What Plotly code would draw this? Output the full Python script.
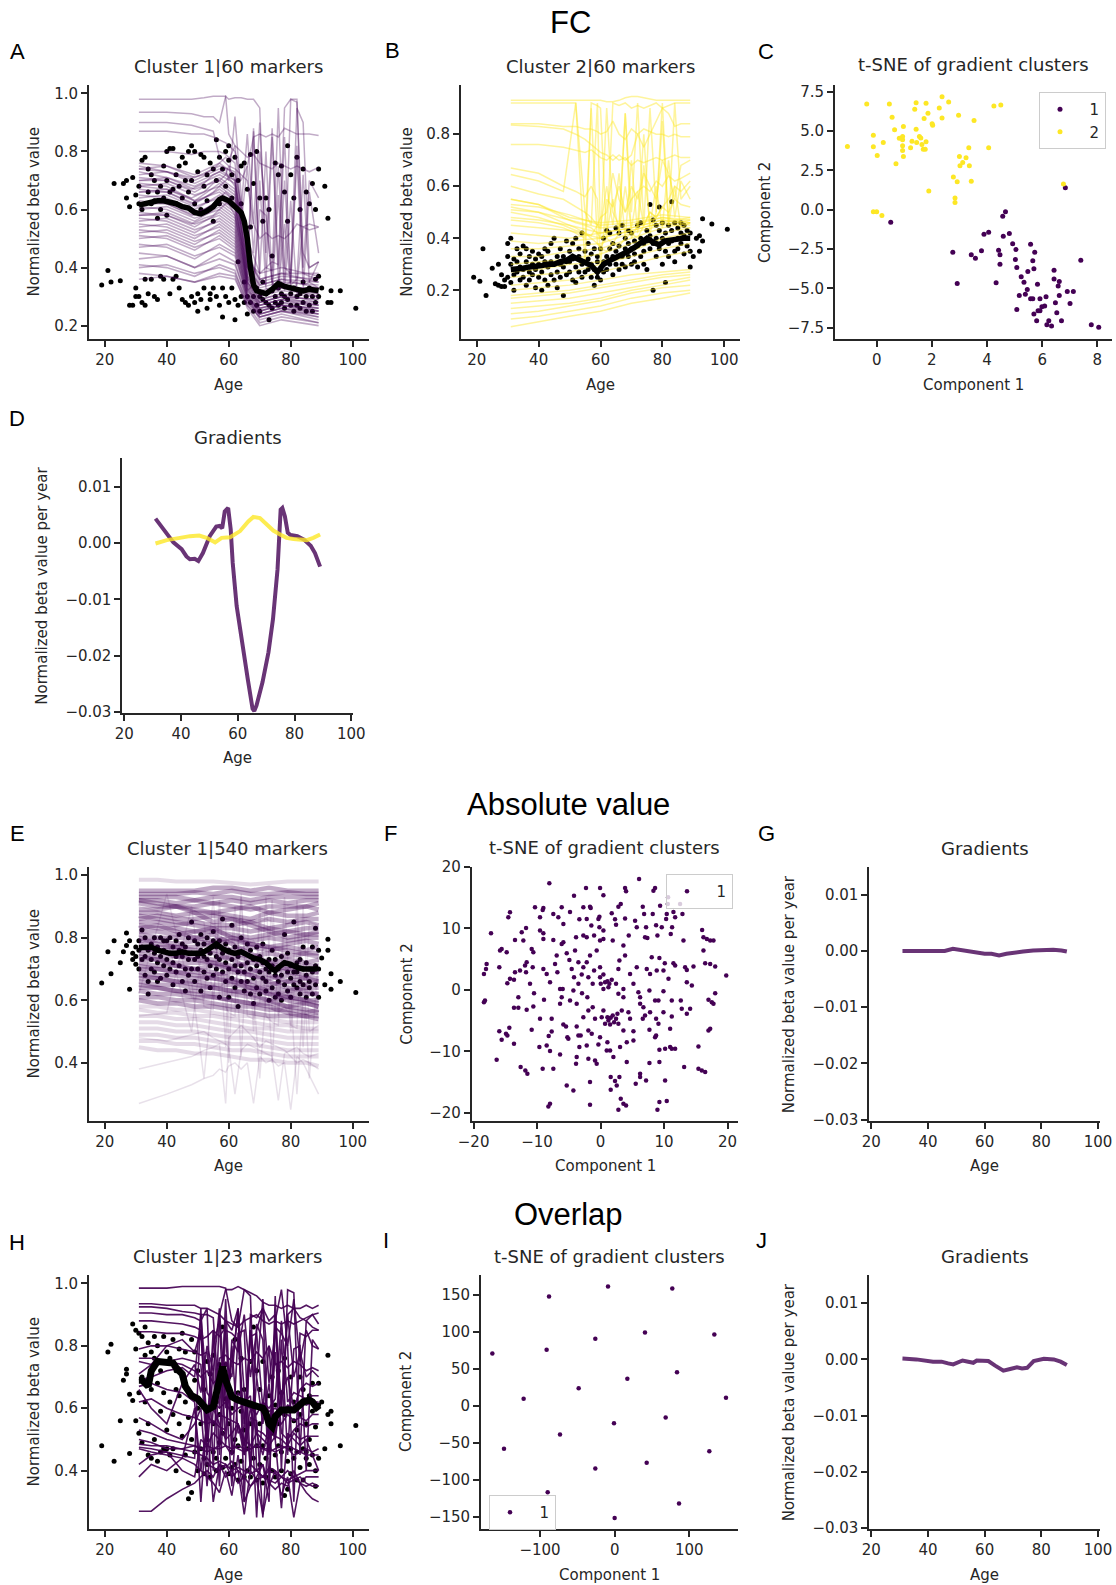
import plotly.graph_objects as go

W, H = 1116, 1585
PURPLE = "#440154"
YELLOW = "#fde725"
INK = "#262626"

# ---------------- shared sample ages (scatter points) ----------------
SAMPLE_AGE = [
    19, 21, 22, 23, 25, 26, 27, 27, 28, 28,
    29, 29, 30, 30, 30, 31, 31, 31, 32, 32,
    32, 33, 33, 33, 34, 34, 34, 35, 35, 35,
    36, 36, 36, 37, 37, 37, 38, 38, 38, 39,
    39, 39, 40, 40, 40, 41, 41, 41, 42, 42,
    42, 43, 43, 43, 44, 44, 44, 45, 45, 45,
    46, 46, 46, 47, 47, 47, 48, 48, 48, 49,
    49, 49, 50, 50, 50, 51, 51, 51, 52, 52,
    52, 53, 53, 53, 54, 54, 54, 55, 55, 55,
    56, 56, 56, 57, 57, 57, 58, 58, 58, 59,
    59, 59, 60, 60, 60, 61, 61, 61, 62, 62,
    62, 63, 63, 63, 64, 64, 64, 65, 65, 65,
    66, 66, 66, 67, 67, 67, 68, 68, 68, 69,
    69, 69, 70, 70, 70, 71, 71, 71, 72, 72,
    72, 73, 73, 73, 74, 74, 74, 75, 75, 75,
    76, 76, 76, 77, 77, 77, 78, 78, 78, 79,
    79, 79, 80, 80, 80, 81, 81, 81, 82, 82,
    82, 83, 83, 83, 84, 84, 84, 85, 85, 85,
    86, 86, 86, 87, 87, 87, 88, 88, 88, 89,
    89, 89, 90, 91, 92, 92, 93, 93, 96, 101,
]

# ---------------- Panel A (FC, cluster 1) ----------------
A_BETA = [
    0.34, 0.39, 0.35, 0.69, 0.355, 0.69, 0.70, 0.64, 0.61, 0.27,
    0.71, 0.27, 0.33, 0.30, 0.65, 0.62, 0.68, 0.30, 0.77, 0.28,
    0.60, 0.78, 0.27, 0.36, 0.74, 0.31, 0.66, 0.62, 0.36, 0.72,
    0.70, 0.30, 0.63, 0.66, 0.29, 0.57, 0.68, 0.37, 0.60, 0.75,
    0.64, 0.36, 0.80, 0.58, 0.70, 0.81, 0.66, 0.31, 0.67, 0.36,
    0.81, 0.72, 0.62, 0.37, 0.75, 0.33, 0.68, 0.78, 0.29, 0.64,
    0.70, 0.28, 0.76, 0.27, 0.80, 0.66, 0.30, 0.70, 0.82, 0.62,
    0.28, 0.80, 0.31, 0.73, 0.25, 0.79, 0.60, 0.29, 0.68, 0.33,
    0.78, 0.26, 0.72, 0.63, 0.31, 0.76, 0.29, 0.56, 0.33, 0.74,
    0.84, 0.30, 0.70, 0.27, 0.78, 0.62, 0.23, 0.74, 0.33, 0.80,
    0.68, 0.30, 0.77, 0.28, 0.82, 0.72, 0.33, 0.64, 0.22, 0.78,
    0.29, 0.70, 0.42, 0.27, 0.75, 0.30, 0.62, 0.76, 0.28, 0.35,
    0.67, 0.24, 0.30, 0.79, 0.28, 0.54, 0.30, 0.25, 0.69, 0.80,
    0.33, 0.27, 0.64, 0.30, 0.25, 0.56, 0.29, 0.35, 0.64, 0.28,
    0.31, 0.60, 0.27, 0.22, 0.32, 0.26, 0.44, 0.76, 0.30, 0.28,
    0.72, 0.33, 0.27, 0.75, 0.28, 0.31, 0.66, 0.26, 0.30, 0.82,
    0.56, 0.29, 0.72, 0.31, 0.27, 0.64, 0.25, 0.33, 0.78, 0.30,
    0.27, 0.60, 0.31, 0.26, 0.74, 0.28, 0.35, 0.66, 0.30, 0.25,
    0.33, 0.62, 0.27, 0.30, 0.69, 0.25, 0.36, 0.28, 0.60, 0.74,
    0.30, 0.37, 0.33, 0.68, 0.57, 0.28, 0.32, 0.28, 0.32, 0.26,
]
A_LOW_AGE = [31, 40, 49, 57, 62, 66, 70, 77, 89]
A_LOW_LINES = [
    [0.76, 0.75, 0.72, 0.76, 0.72, 0.45, 0.36, 0.38, 0.35],
    [0.75, 0.73, 0.70, 0.74, 0.70, 0.42, 0.34, 0.36, 0.33],
    [0.74, 0.75, 0.71, 0.75, 0.73, 0.50, 0.38, 0.40, 0.37],
    [0.73, 0.71, 0.68, 0.72, 0.69, 0.40, 0.32, 0.34, 0.31],
    [0.72, 0.73, 0.69, 0.73, 0.70, 0.44, 0.35, 0.37, 0.36],
    [0.71, 0.70, 0.66, 0.71, 0.67, 0.38, 0.30, 0.33, 0.30],
    [0.70, 0.71, 0.67, 0.70, 0.66, 0.41, 0.33, 0.35, 0.34],
    [0.69, 0.68, 0.63, 0.69, 0.65, 0.37, 0.29, 0.31, 0.28],
    [0.68, 0.69, 0.65, 0.68, 0.64, 0.43, 0.36, 0.38, 0.38],
    [0.67, 0.66, 0.62, 0.67, 0.63, 0.36, 0.28, 0.30, 0.27],
    [0.66, 0.67, 0.63, 0.66, 0.62, 0.39, 0.31, 0.34, 0.32],
    [0.65, 0.64, 0.60, 0.65, 0.61, 0.35, 0.27, 0.29, 0.26],
    [0.64, 0.65, 0.61, 0.64, 0.60, 0.40, 0.34, 0.36, 0.35],
    [0.63, 0.62, 0.58, 0.63, 0.59, 0.34, 0.26, 0.28, 0.25],
    [0.62, 0.63, 0.59, 0.62, 0.58, 0.37, 0.30, 0.32, 0.31],
    [0.61, 0.60, 0.56, 0.61, 0.57, 0.33, 0.25, 0.27, 0.24],
    [0.60, 0.61, 0.57, 0.60, 0.56, 0.36, 0.31, 0.33, 0.33],
    [0.59, 0.58, 0.54, 0.59, 0.55, 0.32, 0.24, 0.26, 0.23],
    [0.58, 0.59, 0.55, 0.58, 0.54, 0.35, 0.29, 0.31, 0.30],
    [0.57, 0.56, 0.52, 0.57, 0.53, 0.31, 0.23, 0.25, 0.22],
    [0.56, 0.57, 0.53, 0.56, 0.52, 0.34, 0.28, 0.30, 0.29],
    [0.55, 0.54, 0.50, 0.55, 0.51, 0.30, 0.22, 0.24, 0.21],
    [0.54, 0.55, 0.51, 0.54, 0.50, 0.33, 0.27, 0.29, 0.28],
    [0.53, 0.52, 0.48, 0.53, 0.49, 0.30, 0.25, 0.27, 0.25],
    [0.52, 0.53, 0.49, 0.52, 0.48, 0.32, 0.28, 0.30, 0.29],
    [0.51, 0.50, 0.46, 0.51, 0.47, 0.29, 0.24, 0.26, 0.24],
    [0.50, 0.51, 0.47, 0.50, 0.46, 0.31, 0.27, 0.29, 0.27],
    [0.48, 0.47, 0.43, 0.48, 0.45, 0.29, 0.25, 0.27, 0.26],
    [0.47, 0.48, 0.44, 0.47, 0.44, 0.30, 0.26, 0.28, 0.27],
    [0.45, 0.44, 0.40, 0.45, 0.42, 0.28, 0.23, 0.25, 0.23],
    [0.43, 0.44, 0.40, 0.43, 0.41, 0.29, 0.26, 0.27, 0.26],
    [0.41, 0.40, 0.37, 0.41, 0.39, 0.27, 0.21, 0.23, 0.21],
    [0.40, 0.41, 0.38, 0.40, 0.38, 0.28, 0.24, 0.26, 0.25],
    [0.38, 0.37, 0.35, 0.38, 0.37, 0.26, 0.20, 0.22, 0.20],
    [0.36, 0.37, 0.35, 0.37, 0.36, 0.27, 0.23, 0.25, 0.24],
]
JAG_AGE = [31, 40, 48, 52, 55, 57, 59, 60, 62, 64, 66, 68, 70, 72, 74, 76, 78, 80, 82, 84, 86, 89]
A_JAG_LINES = [
    [0.98, 0.98, 0.98, 0.985, 0.99, 0.99, 0.99, 0.86, 0.82, 0.80, 0.78, 0.79, 0.76, 0.75, 0.74, 0.76, 0.75, 0.74, 0.75, 0.74, 0.73, 0.745],
    [0.935, 0.935, 0.93, 0.92, 0.92, 0.90, 0.99, 0.98, 0.985, 0.985, 0.98, 0.98, 0.95, 0.40, 0.42, 0.41, 0.95, 0.98, 0.97, 0.45, 0.40, 0.42],
    [0.90, 0.90, 0.89, 0.88, 0.87, 0.78, 0.76, 0.75, 0.74, 0.72, 0.70, 0.55, 0.50, 0.52, 0.50, 0.51, 0.50, 0.52, 0.55, 0.54, 0.55, 0.54],
    [0.87, 0.87, 0.86, 0.86, 0.85, 0.84, 0.83, 0.82, 0.80, 0.70, 0.75, 0.85, 0.86, 0.85, 0.86, 0.85, 0.88, 0.87, 0.86, 0.86, 0.86, 0.855],
    [0.80, 0.80, 0.79, 0.80, 0.80, 0.80, 0.79, 0.78, 0.76, 0.60, 0.45, 0.40, 0.38, 0.40, 0.39, 0.95, 0.40, 0.38, 0.95, 0.90, 0.40, 0.42],
    [0.74, 0.73, 0.71, 0.72, 0.74, 0.76, 0.78, 0.77, 0.82, 0.60, 0.86, 0.55, 0.90, 0.45, 0.88, 0.40, 0.85, 0.35, 0.82, 0.40, 0.70, 0.64],
    [0.70, 0.70, 0.67, 0.69, 0.72, 0.73, 0.74, 0.70, 0.92, 0.65, 0.40, 0.87, 0.38, 0.80, 0.35, 0.75, 0.36, 0.98, 0.98, 0.38, 0.37, 0.36],
    [0.68, 0.67, 0.64, 0.66, 0.69, 0.70, 0.72, 0.75, 0.70, 0.55, 0.75, 0.45, 0.80, 0.60, 0.35, 0.33, 0.70, 0.34, 0.36, 0.72, 0.35, 0.33],
    [0.66, 0.66, 0.62, 0.64, 0.66, 0.68, 0.70, 0.71, 0.68, 0.55, 0.35, 0.32, 0.70, 0.33, 0.31, 0.65, 0.32, 0.63, 0.31, 0.32, 0.66, 0.45],
    [0.62, 0.62, 0.58, 0.60, 0.62, 0.64, 0.66, 0.65, 0.62, 0.50, 0.34, 0.88, 0.36, 0.34, 0.85, 0.36, 0.34, 0.35, 0.78, 0.34, 0.35, 0.42],
    [0.58, 0.58, 0.55, 0.57, 0.58, 0.60, 0.62, 0.62, 0.58, 0.48, 0.32, 0.34, 0.60, 0.58, 0.34, 0.32, 0.55, 0.33, 0.34, 0.54, 0.53, 0.54],
]
A_MEAN_AGE = [31, 33, 35, 37, 39, 41, 43, 45, 47, 49, 51, 53, 55, 57, 58, 60, 62, 64, 65, 66, 67, 68, 69, 70, 72, 74, 76, 78, 80, 82, 84, 86, 88, 89]
A_MEAN = [0.615, 0.62, 0.625, 0.63, 0.63, 0.625, 0.62, 0.61, 0.605, 0.59, 0.585, 0.595, 0.61, 0.635, 0.64, 0.63, 0.61, 0.59, 0.56, 0.50, 0.40, 0.34, 0.32, 0.315, 0.31, 0.325, 0.345, 0.335, 0.33, 0.325, 0.32, 0.325, 0.32, 0.32]

# ---------------- Panel B (FC, cluster 2) ----------------
B_BETA = [
    0.25, 0.235, 0.36, 0.18, 0.285, 0.225, 0.22, 0.30, 0.26, 0.215,
    0.24, 0.215, 0.38, 0.33, 0.25, 0.40, 0.30, 0.23, 0.26, 0.32,
    0.20, 0.36, 0.27, 0.31, 0.24, 0.34, 0.29, 0.25, 0.37, 0.28,
    0.31, 0.22, 0.36, 0.27, 0.33, 0.24, 0.30, 0.35, 0.26, 0.32,
    0.21, 0.28, 0.34, 0.25, 0.30, 0.20, 0.33, 0.27, 0.31, 0.36,
    0.24, 0.29, 0.35, 0.22, 0.31, 0.26, 0.38, 0.30, 0.24, 0.40,
    0.27, 0.33, 0.21, 0.30, 0.36, 0.25, 0.33, 0.18, 0.29, 0.39,
    0.26, 0.31, 0.35, 0.27, 0.31, 0.38, 0.24, 0.32, 0.29, 0.40,
    0.23, 0.33, 0.27, 0.36, 0.30, 0.42, 0.25, 0.31, 0.35, 0.27,
    0.38, 0.28, 0.32, 0.25, 0.34, 0.30, 0.22, 0.36, 0.28, 0.31,
    0.25, 0.33, 0.28, 0.36, 0.24, 0.31, 0.40, 0.27, 0.33, 0.43,
    0.28, 0.36, 0.30, 0.42, 0.26, 0.33, 0.38, 0.44, 0.30, 0.35,
    0.37, 0.28, 0.42, 0.33, 0.45, 0.30, 0.36, 0.40, 0.29, 0.43,
    0.33, 0.38, 0.30, 0.36, 0.42, 0.31, 0.39, 0.34, 0.45, 0.29,
    0.37, 0.33, 0.40, 0.46, 0.30, 0.38, 0.35, 0.43, 0.28, 0.39,
    0.53, 0.36, 0.41, 0.47, 0.20, 0.38, 0.45, 0.33, 0.40, 0.52,
    0.36, 0.43, 0.30, 0.40, 0.46, 0.35, 0.42, 0.23, 0.38, 0.45,
    0.33, 0.54, 0.39, 0.43, 0.35, 0.46, 0.31, 0.40, 0.44, 0.36,
    0.42, 0.38, 0.46, 0.34, 0.41, 0.45, 0.37, 0.43, 0.40, 0.29,
    0.35, 0.42, 0.33, 0.40, 0.35, 0.41, 0.475, 0.39, 0.455, 0.435,
]
B_LOW_AGE = [31, 40, 50, 60, 70, 80, 89]
B_LOW_LINES = [
    [0.06, 0.08, 0.10, 0.12, 0.15, 0.17, 0.19],
    [0.09, 0.10, 0.12, 0.14, 0.17, 0.19, 0.20],
    [0.11, 0.12, 0.14, 0.16, 0.19, 0.21, 0.22],
    [0.13, 0.14, 0.15, 0.17, 0.20, 0.22, 0.24],
    [0.15, 0.16, 0.17, 0.19, 0.21, 0.23, 0.25],
    [0.17, 0.18, 0.19, 0.21, 0.23, 0.25, 0.26],
    [0.18, 0.19, 0.20, 0.22, 0.24, 0.26, 0.27],
    [0.20, 0.21, 0.22, 0.24, 0.26, 0.27, 0.28],
    [0.22, 0.23, 0.24, 0.27, 0.30, 0.33, 0.35],
    [0.25, 0.26, 0.27, 0.30, 0.33, 0.36, 0.38],
    [0.27, 0.28, 0.30, 0.31, 0.35, 0.40, 0.42],
    [0.30, 0.31, 0.32, 0.34, 0.38, 0.42, 0.44],
    [0.33, 0.33, 0.35, 0.36, 0.40, 0.44, 0.46],
    [0.36, 0.36, 0.37, 0.38, 0.42, 0.45, 0.47],
    [0.39, 0.38, 0.39, 0.40, 0.43, 0.46, 0.48],
    [0.42, 0.41, 0.40, 0.42, 0.44, 0.47, 0.45],
    [0.45, 0.44, 0.43, 0.40, 0.43, 0.46, 0.44],
    [0.48, 0.47, 0.45, 0.42, 0.44, 0.47, 0.46],
    [0.51, 0.50, 0.47, 0.44, 0.45, 0.48, 0.47],
    [0.53, 0.52, 0.49, 0.45, 0.46, 0.48, 0.46],
    [0.55, 0.53, 0.48, 0.46, 0.47, 0.49, 0.48],
]
B_JAG_LINES = [
    [0.93, 0.93, 0.93, 0.93, 0.93, 0.93, 0.93, 0.93, 0.925, 0.925, 0.93, 0.94, 0.945, 0.945, 0.94, 0.935, 0.93, 0.93, 0.93, 0.93, 0.93, 0.93],
    [0.92, 0.92, 0.92, 0.92, 0.30, 0.92, 0.91, 0.90, 0.40, 0.92, 0.91, 0.92, 0.90, 0.91, 0.90, 0.91, 0.92, 0.90, 0.91, 0.92, 0.92, 0.92],
    [0.84, 0.84, 0.83, 0.83, 0.82, 0.82, 0.81, 0.80, 0.81, 0.85, 0.80, 0.78, 0.82, 0.80, 0.75, 0.80, 0.85, 0.90, 0.88, 0.83, 0.84, 0.84],
    [0.835, 0.83, 0.82, 0.80, 0.78, 0.76, 0.74, 0.73, 0.72, 0.70, 0.72, 0.70, 0.72, 0.80, 0.82, 0.81, 0.80, 0.80, 0.79, 0.80, 0.79, 0.79],
    [0.76, 0.76, 0.75, 0.74, 0.73, 0.74, 0.72, 0.71, 0.70, 0.72, 0.70, 0.71, 0.68, 0.70, 0.69, 0.70, 0.71, 0.70, 0.71, 0.72, 0.71, 0.71],
    [0.67, 0.65, 0.60, 0.58, 0.56, 0.60, 0.55, 0.30, 0.55, 0.52, 0.60, 0.50, 0.55, 0.58, 0.60, 0.58, 0.62, 0.60, 0.64, 0.62, 0.63, 0.65],
    [0.645, 0.62, 0.58, 0.92, 0.50, 0.45, 0.92, 0.40, 0.90, 0.50, 0.45, 0.88, 0.50, 0.92, 0.45, 0.90, 0.50, 0.85, 0.45, 0.92, 0.55, 0.60],
    [0.60, 0.57, 0.55, 0.52, 0.50, 0.48, 0.45, 0.44, 0.60, 0.45, 0.65, 0.40, 0.70, 0.42, 0.68, 0.45, 0.60, 0.44, 0.70, 0.48, 0.62, 0.55],
    [0.55, 0.53, 0.48, 0.46, 0.45, 0.44, 0.42, 0.40, 0.42, 0.55, 0.42, 0.60, 0.44, 0.58, 0.45, 0.50, 0.48, 0.52, 0.50, 0.55, 0.53, 0.52],
    [0.52, 0.50, 0.46, 0.44, 0.42, 0.40, 0.38, 0.37, 0.40, 0.38, 0.42, 0.88, 0.40, 0.45, 0.80, 0.42, 0.50, 0.92, 0.45, 0.60, 0.44, 0.46],
    [0.50, 0.48, 0.45, 0.43, 0.42, 0.41, 0.45, 0.48, 0.50, 0.65, 0.55, 0.50, 0.60, 0.55, 0.65, 0.60, 0.55, 0.70, 0.65, 0.55, 0.68, 0.70],
    [0.47, 0.46, 0.44, 0.42, 0.40, 0.90, 0.38, 0.36, 0.35, 0.38, 0.37, 0.40, 0.42, 0.40, 0.45, 0.50, 0.48, 0.52, 0.55, 0.60, 0.58, 0.62],
]
B_MEAN_AGE = [31, 33, 35, 37, 39, 41, 43, 45, 47, 49, 51, 53, 55, 57, 59, 61, 63, 65, 67, 69, 71, 73, 75, 77, 79, 81, 83, 85, 87, 89]
B_MEAN = [0.28, 0.28, 0.285, 0.29, 0.29, 0.295, 0.30, 0.30, 0.31, 0.315, 0.33, 0.32, 0.31, 0.295, 0.27, 0.30, 0.315, 0.325, 0.34, 0.35, 0.365, 0.385, 0.40, 0.385, 0.375, 0.39, 0.395, 0.40, 0.40, 0.40]

# ---------------- Panel C (t-SNE, FC) ----------------
C_TSNE_1 = [
    (0.51, -0.80), (2.76, -2.70), (2.92, -4.69), (3.43, -2.87), (3.58, -3.09), (3.80, -2.62), (3.89, -1.56),
    (4.06, -1.44), (4.33, -4.65), (4.42, -2.58), (4.47, -2.87), (4.47, -3.47), (4.57, -0.42), (4.67, -0.13),
    (4.59, -1.69), (4.81, -1.52), (4.93, -2.16), (5.05, -2.54), (5.03, -3.17), (5.08, -3.68), (5.08, -6.34),
    (5.17, -5.45), (5.24, -4.27), (5.34, -4.61), (5.39, -5.37), (5.46, -5.07), (5.48, -3.93), (5.58, -2.20),
    (5.58, -5.66), (5.66, -5.66), (5.66, -3.25), (5.70, -3.76), (5.73, -2.70), (5.70, -6.63), (5.83, -4.74),
    (5.80, -7.06), (5.85, -6.42), (5.92, -6.42), (5.92, -5.66), (5.99, -6.17), (6.09, -6.13), (6.14, -5.54),
    (6.17, -7.31), (6.24, -7.06), (6.34, -7.40), (6.43, -3.85), (6.43, -4.40), (6.48, -5.92), (6.53, -6.55),
    (6.58, -4.86), (6.62, -4.57), (6.62, -5.45), (6.70, -7.06), (6.84, 1.39), (6.91, -5.20), (7.01, -5.96),
    (7.13, -5.20), (7.40, -3.21), (7.78, -7.31), (8.05, -7.48),
]
C_TSNE_2 = [
    (-1.06, 4.01), (-0.36, 6.72), (0.46, 6.72), (-0.12, 4.73), (-0.12, 3.99), (0.02, 3.44), (0.24, 4.27),
    (0.56, 5.87), (0.65, 5.07), (0.70, 2.92), (0.82, 4.54), (0.94, 4.65), (0.94, 4.44), (0.94, 4.06),
    (0.94, 3.76), (0.97, 3.38), (0.97, 5.28), (1.23, 3.93), (1.28, 4.35), (1.38, 6.38), (1.43, 6.80),
    (1.43, 5.11), (1.45, 4.27), (1.55, 4.65), (1.60, 4.56), (1.64, 4.14), (1.69, 3.84), (1.76, 3.84),
    (1.72, 5.79), (1.79, 6.76), (1.79, 4.31), (1.86, 6.13), (1.89, 1.18), (2.01, 5.45), (2.03, 5.37),
    (2.27, 6.46), (2.37, 7.18), (2.37, 5.83), (2.61, 6.84), (2.78, 2.07), (2.84, 0.74), (2.84, 0.46),
    (2.92, 1.77), (2.97, 6.00), (3.00, 3.38), (3.02, 2.79), (3.12, 3.00), (3.24, 3.30), (3.34, 3.93),
    (3.36, 2.79), (3.43, 1.80), (3.53, 5.66), (4.06, 3.93), (4.25, 6.59), (4.50, 6.65), (6.77, 1.63),
    (-0.12, -0.13), (0.0, -0.13), (0.19, -0.38),
]

# ---------------- Panel D (gradients, FC) ----------------
D_AGE_1 = [31, 33.8, 37.3, 40.2, 41.9, 43.1, 44.8, 46.1, 47.7, 50.1, 52.4, 53.6, 54.5, 55.4, 56.6, 57.5, 58.2, 59.6, 61.7, 63.5,
           65.2, 65.8, 66.6, 68.7, 70.8, 72.4, 74.0, 75.1, 75.7, 76.6, 77.6, 78.6, 81.0, 83.3, 85.7, 87.2, 89.0]
D_GRAD_1 = [0.0043, 0.0024, 0.0001, -0.0011, -0.0024, -0.0029, -0.0028, -0.0032, -0.0018, 0.0012, 0.0029, 0.0030, 0.0026, 0.0056,
            0.0062, 0.0024, -0.0035, -0.0112, -0.0188, -0.0241, -0.0294, -0.0298, -0.0288, -0.0247, -0.0194, -0.0135, -0.0047,
            0.0059, 0.0062, 0.0047, 0.0018, 0.0014, 0.0012, 0.0006, -0.0005, -0.0018, -0.0042]
D_AGE_2 = [31, 35, 39.6, 43.1, 46.4, 49, 52, 54.3, 57.3, 60.8, 63.7, 65.5, 67.8, 70.2, 72.5, 74.9, 77.2, 79.6, 81.9, 84.3, 86.6, 89]
D_GRAD_2 = [-0.0001, 0.0005, 0.0009, 0.0012, 0.0013, 0.0009, 0.0001, 0.0009, 0.0010, 0.0021, 0.0038, 0.0046, 0.0044, 0.0032,
            0.0022, 0.0015, 0.0009, 0.0007, 0.0006, 0.0005, 0.0009, 0.0015]

# ---------------- Panel E (absolute value, cluster 1) ----------------
E_BETA = [
    0.655, 0.755, 0.685, 0.79, 0.72, 0.755, 0.815, 0.775, 0.635, 0.79,
    0.75, 0.73, 0.715, 0.77, 0.74, 0.79, 0.70, 0.76, 0.825, 0.73,
    0.77, 0.68, 0.74, 0.80, 0.62, 0.66, 0.76, 0.70, 0.78, 0.73,
    0.75, 0.69, 0.80, 0.72, 0.77, 0.66, 0.80, 0.67, 0.74, 0.79,
    0.71, 0.76, 0.73, 0.79, 0.68, 0.75, 0.80, 0.70, 0.77, 0.72,
    0.65, 0.74, 0.79, 0.69, 0.76, 0.71, 0.81, 0.66, 0.74, 0.78,
    0.70, 0.77, 0.63, 0.73, 0.80, 0.68, 0.75, 0.85, 0.70, 0.73,
    0.79, 0.66, 0.74, 0.70, 0.78, 0.63, 0.76, 0.81, 0.69, 0.74,
    0.78, 0.67, 0.73, 0.80, 0.64, 0.75, 0.71, 0.79, 0.68, 0.82,
    0.74, 0.70, 0.77, 0.61, 0.73, 0.79, 0.86, 0.69, 0.75, 0.72,
    0.66, 0.78, 0.70, 0.61, 0.76, 0.73, 0.67, 0.84, 0.71, 0.64,
    0.77, 0.69, 0.58, 0.74, 0.66, 0.80, 0.71, 0.63, 0.75, 0.69,
    0.72, 0.66, 0.78, 0.62, 0.70, 0.76, 0.59, 0.73, 0.67, 0.71,
    0.64, 0.77, 0.69, 0.62, 0.74, 0.67, 0.72, 0.78, 0.63, 0.70,
    0.66, 0.73, 0.60, 0.69, 0.64, 0.71, 0.76, 0.61, 0.68, 0.73,
    0.66, 0.70, 0.62, 0.74, 0.68, 0.60, 0.81, 0.65, 0.72, 0.69,
    0.63, 0.75, 0.67, 0.71, 0.61, 0.85, 0.69, 0.65, 0.72, 0.64,
    0.69, 0.66, 0.73, 0.62, 0.70, 0.65, 0.77, 0.61, 0.68, 0.72,
    0.64, 0.70, 0.66, 0.77, 0.62, 0.69, 0.65, 0.83, 0.71, 0.61,
    0.76, 0.70, 0.735, 0.65, 0.795, 0.76, 0.685, 0.635, 0.66, 0.625,
]
E_FLAT_AGE = [31, 37, 43, 49, 55, 61, 67, 73, 79, 85, 89]
# dense core of the 540 trajectories
E_CORE_LINES = [
    [0.95, 0.95, 0.95, 0.95, 0.96, 0.96, 0.95, 0.96, 0.95, 0.95, 0.95],
    [0.94, 0.94, 0.94, 0.945, 0.94, 0.95, 0.94, 0.94, 0.945, 0.94, 0.94],
    [0.93, 0.93, 0.93, 0.92, 0.93, 0.93, 0.92, 0.93, 0.93, 0.93, 0.93],
    [0.92, 0.92, 0.91, 0.92, 0.91, 0.92, 0.91, 0.92, 0.91, 0.92, 0.92],
    [0.91, 0.90, 0.90, 0.90, 0.91, 0.90, 0.89, 0.90, 0.90, 0.90, 0.91],
    [0.89, 0.89, 0.90, 0.89, 0.88, 0.89, 0.90, 0.88, 0.89, 0.90, 0.89],
    [0.88, 0.88, 0.87, 0.88, 0.88, 0.87, 0.86, 0.88, 0.87, 0.87, 0.88],
    [0.86, 0.87, 0.86, 0.86, 0.87, 0.86, 0.85, 0.86, 0.85, 0.86, 0.86],
    [0.85, 0.85, 0.84, 0.85, 0.84, 0.84, 0.85, 0.83, 0.84, 0.85, 0.84],
    [0.84, 0.83, 0.83, 0.82, 0.83, 0.83, 0.82, 0.83, 0.82, 0.83, 0.83],
    [0.82, 0.82, 0.81, 0.82, 0.82, 0.81, 0.80, 0.81, 0.82, 0.81, 0.81],
    [0.81, 0.80, 0.80, 0.80, 0.79, 0.80, 0.79, 0.80, 0.79, 0.80, 0.80],
    [0.79, 0.79, 0.78, 0.79, 0.78, 0.79, 0.78, 0.77, 0.78, 0.79, 0.78],
    [0.78, 0.77, 0.77, 0.77, 0.78, 0.76, 0.77, 0.76, 0.77, 0.76, 0.77],
    [0.76, 0.76, 0.76, 0.75, 0.76, 0.75, 0.74, 0.75, 0.74, 0.75, 0.75],
    [0.75, 0.74, 0.74, 0.74, 0.73, 0.74, 0.73, 0.72, 0.73, 0.72, 0.73],
    [0.73, 0.73, 0.72, 0.72, 0.72, 0.71, 0.72, 0.71, 0.70, 0.71, 0.71],
    [0.72, 0.71, 0.71, 0.70, 0.71, 0.70, 0.69, 0.70, 0.69, 0.68, 0.69],
    [0.70, 0.70, 0.69, 0.69, 0.68, 0.69, 0.68, 0.67, 0.68, 0.67, 0.67],
    [0.69, 0.68, 0.68, 0.67, 0.67, 0.66, 0.66, 0.65, 0.66, 0.65, 0.66],
    [0.67, 0.67, 0.66, 0.66, 0.65, 0.65, 0.64, 0.64, 0.63, 0.64, 0.64],
    [0.66, 0.65, 0.65, 0.64, 0.64, 0.63, 0.63, 0.62, 0.62, 0.62, 0.62],
    [0.64, 0.64, 0.63, 0.63, 0.62, 0.62, 0.61, 0.60, 0.61, 0.60, 0.60],
    [0.63, 0.62, 0.62, 0.61, 0.61, 0.60, 0.59, 0.59, 0.58, 0.59, 0.58],
    [0.61, 0.61, 0.60, 0.60, 0.59, 0.58, 0.58, 0.57, 0.57, 0.56, 0.57],
    [0.60, 0.59, 0.59, 0.58, 0.58, 0.57, 0.56, 0.55, 0.55, 0.55, 0.55],
    [0.92, 0.91, 0.90, 0.88, 0.85, 0.86, 0.84, 0.82, 0.80, 0.81, 0.82],
    [0.87, 0.86, 0.85, 0.84, 0.83, 0.80, 0.78, 0.77, 0.76, 0.75, 0.74],
    [0.83, 0.84, 0.82, 0.80, 0.81, 0.78, 0.75, 0.72, 0.70, 0.70, 0.69],
    [0.80, 0.78, 0.77, 0.76, 0.75, 0.73, 0.70, 0.68, 0.66, 0.67, 0.66],
    [0.77, 0.76, 0.74, 0.73, 0.72, 0.70, 0.68, 0.66, 0.64, 0.63, 0.62],
    [0.74, 0.73, 0.71, 0.70, 0.69, 0.67, 0.65, 0.63, 0.61, 0.60, 0.59],
    [0.71, 0.70, 0.69, 0.68, 0.67, 0.66, 0.64, 0.62, 0.60, 0.59, 0.58],
    [0.68, 0.67, 0.66, 0.65, 0.64, 0.63, 0.62, 0.60, 0.58, 0.57, 0.56],
    [0.65, 0.64, 0.63, 0.62, 0.61, 0.60, 0.59, 0.58, 0.56, 0.55, 0.54],
]
# sparse, fading trajectories at the edges of the band
E_FADE_LINES = [
    [0.985, 0.985, 0.98, 0.98, 0.98, 0.975, 0.97, 0.975, 0.98, 0.98, 0.98],
    [0.58, 0.58, 0.57, 0.57, 0.56, 0.55, 0.55, 0.54, 0.53, 0.53, 0.53],
    [0.57, 0.56, 0.56, 0.55, 0.55, 0.54, 0.53, 0.52, 0.52, 0.51, 0.51],
    [0.55, 0.55, 0.54, 0.54, 0.53, 0.52, 0.51, 0.51, 0.50, 0.50, 0.50],
    [0.53, 0.53, 0.52, 0.52, 0.51, 0.50, 0.50, 0.49, 0.48, 0.48, 0.48],
    [0.51, 0.51, 0.50, 0.50, 0.49, 0.48, 0.48, 0.47, 0.46, 0.46, 0.46],
    [0.49, 0.49, 0.48, 0.48, 0.47, 0.46, 0.46, 0.45, 0.44, 0.44, 0.44],
    [0.47, 0.47, 0.46, 0.46, 0.45, 0.44, 0.44, 0.43, 0.42, 0.42, 0.42],
    [0.45, 0.44, 0.44, 0.43, 0.43, 0.42, 0.41, 0.41, 0.40, 0.40, 0.39],
]
E_JAG_LINES = [
    [0.38, 0.40, 0.42, 0.44, 0.45, 0.46, 0.27, 0.48, 0.50, 0.52, 0.50, 0.48, 0.45, 0.47, 0.46, 0.45, 0.44, 0.42, 0.40, 0.41, 0.40, 0.38],
    [0.27, 0.30, 0.33, 0.35, 0.36, 0.38, 0.37, 0.39, 0.40, 0.38, 0.40, 0.27, 0.42, 0.40, 0.41, 0.39, 0.40, 0.25, 0.42, 0.40, 0.36, 0.30],
    [0.90, 0.88, 0.86, 0.85, 0.60, 0.87, 0.86, 0.40, 0.85, 0.86, 0.84, 0.50, 0.85, 0.86, 0.85, 0.55, 0.84, 0.85, 0.86, 0.45, 0.85, 0.84],
    [0.70, 0.68, 0.66, 0.35, 0.65, 0.64, 0.66, 0.65, 0.90, 0.66, 0.64, 0.63, 0.35, 0.62, 0.92, 0.63, 0.60, 0.62, 0.30, 0.60, 0.62, 0.60],
    [0.55, 0.56, 0.90, 0.58, 0.57, 0.92, 0.58, 0.56, 0.55, 0.93, 0.55, 0.54, 0.90, 0.55, 0.53, 0.52, 0.93, 0.52, 0.51, 0.90, 0.50, 0.52],
    [0.82, 0.80, 0.50, 0.82, 0.81, 0.79, 0.45, 0.80, 0.78, 0.42, 0.78, 0.79, 0.75, 0.77, 0.40, 0.76, 0.75, 0.50, 0.74, 0.73, 0.35, 0.74],
    [0.62, 0.94, 0.61, 0.60, 0.93, 0.61, 0.60, 0.62, 0.59, 0.94, 0.60, 0.58, 0.59, 0.93, 0.57, 0.56, 0.58, 0.55, 0.92, 0.56, 0.55, 0.56],
    [0.48, 0.47, 0.49, 0.50, 0.48, 0.47, 0.46, 0.45, 0.30, 0.44, 0.46, 0.45, 0.44, 0.43, 0.42, 0.28, 0.43, 0.44, 0.45, 0.43, 0.42, 0.43],
]
E_MEAN_AGE = [31, 33, 35, 37, 39, 41, 43, 45, 47, 49, 51, 53, 55, 56, 58, 60, 62, 64, 66, 68, 70, 72, 74, 75, 76, 78, 80, 82, 84, 86, 88, 89]
E_MEAN = [0.768, 0.77, 0.77, 0.76, 0.755, 0.75, 0.75, 0.755, 0.75, 0.75, 0.75, 0.76, 0.775, 0.78, 0.765, 0.755, 0.75, 0.755, 0.745,
          0.735, 0.73, 0.72, 0.70, 0.695, 0.705, 0.72, 0.715, 0.705, 0.70, 0.70, 0.70, 0.705]

# ---------------- Panel F (t-SNE, absolute value) ----------------
F_TSNE_1 = [
    (-8.07, 17.34), (6.07, 18.05), (-2.29, 16.59), (-0.08, 16.59), (-4.18, 15.34), (0.45, 15.39), (3.86, 16.59), (4.02, 16.04),
    (8.33, 16.15), (8.59, 16.59), (-1.66, 13.55), (-1.55, 13.33), (-2.71, 13.44), (-4.81, 12.68), (-6.12, 13.44), (-9.01, 13.33),
    (-10.33, 13.44), (-9.12, 13.01), (-14.27, 12.63), (-14.53, 11.82), (2.81, 13.55), (3.18, 13.98), (6.65, 13.55), (8.22, 12.36),
    (9.38, 13.71), (10.43, 12.36), (10.59, 13.98), (11.48, 12.68), (12.53, 13.98), (12.90, 12.36), (10.64, 15.07), (1.76, 12.47),
    (-0.18, 11.92), (-0.34, 11.54), (-3.34, 11.49), (-2.18, 11.54), (-7.44, 12.36), (-6.65, 11.82), (-5.86, 10.73), (-9.54, 11.82),
    (2.28, 11.49), (2.44, 10.62), (3.86, 11.60), (5.44, 11.27), (6.86, 12.36), (7.17, 10.19), (8.75, 10.51), (9.64, 10.19),
    (10.33, 11.54), (11.27, 10.19), (11.75, 11.82), (16.00, 9.76), (16.21, 8.56), (16.74, 8.29), (17.27, 8.02), (17.79, 8.02),
    (16.21, 6.40), (13.06, 8.02), (11.06, 9.11), (8.96, 8.83), (7.38, 8.46), (7.01, 8.56), (5.70, 10.19), (4.44, 8.83),
    (3.60, 7.21), (1.92, 8.02), (0.45, 8.29), (-0.08, 8.02), (0.45, 9.65), (-0.18, 10.19), (-1.45, 10.46), (-1.02, 8.83),
    (-2.71, 8.83), (-2.18, 8.56), (-3.86, 8.56), (-5.86, 7.75), (-6.12, 7.48), (-7.44, 8.13), (-9.01, 8.29), (-9.54, 9.65),
    (-9.01, 9.21), (-11.74, 10.08), (-12.42, 9.38), (-12.16, 8.02), (-13.48, 8.13), (-10.85, 6.67), (-10.59, 6.12), (-15.58, 6.67),
    (-15.84, 6.40), (-14.79, 6.12), (-17.26, 9.21), (-15.95, 3.69), (-17.95, 4.23), (-18.05, 3.41), (-18.37, 2.60), (-18.37, -2.01),
    (-18.21, -1.73), (-14.69, 1.08), (-14.27, 1.79), (-13.64, 1.63), (-13.48, 2.87), (-12.69, 3.14), (-11.74, 2.87), (-11.90, 3.96),
    (-11.64, 4.50), (-10.69, 3.69), (-11.11, 0.98), (-10.48, -0.54), (-12.95, -1.19), (-12.95, -2.93), (-13.64, -2.93), (-11.64, -3.25),
    (-10.59, -2.71), (-8.91, -1.63), (-8.49, 2.60), (-9.01, 3.41), (-7.96, 1.25), (-7.17, 4.23), (-6.91, 5.58), (-6.80, 2.87),
    (-6.38, 0.16), (-6.12, -1.19), (-5.96, 0.16), (-4.91, 4.88), (-4.55, 3.41), (-3.49, 4.50), (-2.71, 3.69), (-4.18, 2.06),
    (-3.49, 0.98), (-2.92, -0.54), (-4.81, -1.73), (-4.28, -0.11), (-1.92, 2.06), (-1.24, 0.98), (-1.02, 3.14), (-0.08, 3.69),
    (-0.08, 2.06), (0.45, 2.49), (0.03, 0.98), (0.71, 1.25), (1.08, 1.41), (1.39, 0.98), (1.76, 1.63), (0.45, 0.16),
    (1.24, 0.43), (2.44, 0.98), (2.81, 3.41), (2.97, 4.77), (3.86, 5.58), (4.65, 2.60), (5.18, 0.98), (5.96, -0.38),
    (6.23, -1.19), (5.70, 3.69), (7.28, 3.41), (7.80, 2.60), (8.06, 5.31), (9.27, 5.20), (8.85, 3.14), (10.12, 4.34),
    (9.91, 3.14), (10.70, 1.79), (11.48, 4.34), (11.75, 3.96), (13.32, 3.69), (13.59, 3.25), (14.64, 3.79), (13.59, 1.25),
    (14.38, 0.70), (16.48, 4.34), (17.27, 4.23), (18.06, 3.79), (19.80, 2.33), (18.06, -0.54), (17.00, -1.63), (17.53, -2.01),
    (17.79, -2.28), (17.00, -6.61), (17.27, -6.34), (15.42, -9.21), (15.42, -12.85), (15.95, -13.12), (16.48, -13.39), (13.17, -12.57),
    (14.11, -3.09), (13.59, -3.90), (12.79, -3.09), (12.64, -1.73), (11.22, -4.34), (10.96, -6.34), (10.96, -9.32), (11.22, -9.59),
    (11.75, -9.59), (10.17, -9.59), (9.27, -9.76), (9.27, -11.76), (8.59, -7.70), (8.75, -7.43), (7.70, -6.50), (7.70, -11.92),
    (7.17, -14.74), (6.23, -13.66), (6.23, -14.20), (5.54, -15.28), (10.17, -14.74), (10.43, -18.10), (9.27, -18.27), (8.96, -19.51),
    (4.02, -18.81), (3.60, -18.54), (2.81, -19.51), (3.18, -17.72), (2.55, -15.56), (2.97, -14.20), (2.28, -14.85), (1.60, -14.20),
    (1.60, -16.26), (-1.66, -18.70), (-1.66, -15.01), (-4.28, -16.37), (-5.33, -15.56), (-7.96, -18.54), (-8.22, -18.97), (-7.44, -12.85),
    (-9.12, -12.85), (-11.85, -13.12), (-11.53, -13.66), (-12.59, -12.57), (-16.37, -11.38), (-15.95, -6.72), (-15.58, -8.13), (-14.90, -7.16),
    (-14.69, -7.43), (-14.37, -6.18), (-13.64, -8.78), (-10.85, -6.50), (-9.64, -9.32), (-8.49, -9.05), (-7.96, -9.97), (-6.38, -10.51),
    (-8.17, -7.53), (-7.70, -6.78), (-5.86, -5.64), (-5.44, -5.96), (-5.23, -7.70), (-5.07, -7.97), (-3.76, -5.96), (-3.13, -7.43),
    (-3.49, -7.43), (-3.76, -10.95), (-3.86, -12.03), (-3.34, -9.32), (-2.18, -9.05), (-1.92, -11.22), (-0.87, -11.49), (-0.61, -12.03),
    (-0.34, -8.89), (-0.08, -7.70), (-1.92, -6.61), (-1.39, -7.16), (-0.87, -4.72), (-2.71, -4.44), (-1.92, -3.36), (-1.24, -2.82),
    (0.45, -3.36), (0.18, -4.44), (1.08, -4.44), (1.24, -4.99), (1.60, -4.55), (1.92, -4.17), (2.13, -5.26), (2.44, -4.72),
    (2.66, -3.90), (2.81, -5.53), (1.50, -5.64), (0.71, -5.53), (3.34, -3.36), (4.39, -3.63), (4.65, -4.72), (3.60, -6.61),
    (5.18, -6.72), (5.18, -8.24), (4.13, -8.51), (3.07, -9.32), (1.08, -8.51), (1.50, -9.86), (2.02, -10.95), (4.13, -11.76),
    (0.97, -9.86), (6.65, -4.72), (7.01, -4.17), (7.80, -3.63), (8.75, -4.72), (9.12, -5.53), (9.91, -3.63), (9.12, -1.73),
    (8.59, -1.73), (6.75, -2.82), (6.23, -2.28), (3.60, -1.19), (2.81, -0.65), (3.60, 0.16), (7.70, -0.11), (9.91, -0.22),
    (11.22, -1.73), (-3.76, -2.28), (-6.38, -2.28), (-7.70, -4.72), (-9.54, -4.72), (-2.08, -1.19), (-2.97, 2.49), (-1.66, 5.58),
    (-2.18, 4.50), (-0.61, 6.40), (-4.02, 6.40), (-5.33, 5.96),
]

# ---------------- Panel G (gradients, absolute value) ----------------
G_AGE = [31, 39.4, 44.1, 45.9, 48.8, 51.2, 55.9, 60.0, 62.4, 65.1, 67.7, 70.0, 73.6, 77.1, 80.6, 84.2, 87.1, 89]
G_GRAD = [0.0, 0.0, -0.0001, 0.0, 0.0004, 0.0002, -0.0001, -0.0005, -0.0005, -0.0008, -0.0005, -0.0004, -0.0001, 0.0001,
          0.0002, 0.0002, 0.0001, -0.0001]

# ---------------- Panel H (overlap, cluster 1) ----------------
H_BETA = [
    0.48, 0.78, 0.805, 0.43, 0.56, 0.69, 0.725, 0.71, 0.645, 0.455,
    0.87, 0.625, 0.85, 0.56, 0.79, 0.84, 0.65, 0.52, 0.83, 0.70,
    0.49, 0.86, 0.77, 0.62, 0.81, 0.55, 0.45, 0.78, 0.66, 0.44,
    0.76, 0.50, 0.83, 0.68, 0.43, 0.80, 0.59, 0.46, 0.72, 0.83,
    0.47, 0.65, 0.78, 0.53, 0.47, 0.76, 0.62, 0.45, 0.82, 0.58,
    0.47, 0.72, 0.66, 0.40, 0.79, 0.55, 0.64, 0.84, 0.51, 0.70,
    0.62, 0.45, 0.78, 0.36, 0.31, 0.57, 0.82, 0.50, 0.33, 0.69,
    0.46, 0.78, 0.40, 0.60, 0.72, 0.47, 0.83, 0.55, 0.44, 0.66,
    0.39, 0.75, 0.50, 0.42, 0.61, 0.38, 0.71, 0.46, 0.55, 0.77,
    0.44, 0.62, 0.40, 0.74, 0.49, 0.58, 0.86, 0.41, 0.52, 0.74,
    0.44, 0.63, 0.39, 0.55, 0.70, 0.46, 0.60, 0.41, 0.82, 0.50,
    0.42, 0.65, 0.37, 0.48, 0.59, 0.43, 0.76, 0.38, 0.53, 0.66,
    0.40, 0.61, 0.47, 0.75, 0.38, 0.55, 0.86, 0.44, 0.60, 0.48,
    0.72, 0.37, 0.55, 0.42, 0.66, 0.48, 0.36, 0.75, 0.44, 0.58,
    0.38, 0.64, 0.47, 0.56, 0.40, 0.70, 0.52, 0.45, 0.61, 0.38,
    0.72, 0.48, 0.55, 0.40, 0.65, 0.46, 0.32, 0.58, 0.76, 0.43,
    0.60, 0.34, 0.47, 0.70, 0.39, 0.56, 0.44, 0.62, 0.37, 0.53,
    0.46, 0.70, 0.41, 0.58, 0.47, 0.37, 0.66, 0.44, 0.55, 0.46,
    0.64, 0.42, 0.50, 0.59, 0.45, 0.68, 0.40, 0.35, 0.54, 0.61,
    0.44, 0.68, 0.62, 0.47, 0.77, 0.58, 0.59, 0.55, 0.48, 0.545,
]
H_AGE = [31, 35, 40, 45, 49, 51, 53, 55, 57, 59, 61, 63, 65, 67, 69, 71, 73, 75, 77, 79, 81, 83, 85, 87, 89]
H_LINES = [
    [0.985, 0.985, 0.985, 0.99, 0.99, 0.99, 0.99, 0.99, 0.99, 0.985, 0.88, 0.86, 0.98, 0.97, 0.96, 0.94, 0.93, 0.93, 0.92, 0.93, 0.92, 0.92, 0.93, 0.92, 0.93],
    [0.935, 0.935, 0.93, 0.93, 0.93, 0.92, 0.92, 0.91, 0.90, 0.98, 0.98, 0.99, 0.98, 0.96, 0.40, 0.42, 0.30, 0.96, 0.40, 0.98, 0.97, 0.45, 0.88, 0.86, 0.85],
    [0.925, 0.925, 0.92, 0.91, 0.905, 0.90, 0.90, 0.89, 0.60, 0.88, 0.87, 0.86, 0.88, 0.89, 0.90, 0.88, 0.87, 0.88, 0.87, 0.88, 0.87, 0.88, 0.89, 0.90, 0.905],
    [0.905, 0.905, 0.90, 0.90, 0.89, 0.88, 0.92, 0.40, 0.90, 0.88, 0.85, 0.92, 0.30, 0.90, 0.89, 0.92, 0.88, 0.90, 0.60, 0.90, 0.92, 0.89, 0.88, 0.90, 0.87],
    [0.88, 0.88, 0.875, 0.87, 0.86, 0.85, 0.50, 0.85, 0.83, 0.86, 0.45, 0.84, 0.85, 0.40, 0.87, 0.82, 0.35, 0.86, 0.84, 0.80, 0.30, 0.84, 0.83, 0.85, 0.85],
    [0.845, 0.845, 0.84, 0.84, 0.83, 0.82, 0.83, 0.85, 0.45, 0.85, 0.84, 0.82, 0.55, 0.83, 0.84, 0.60, 0.80, 0.50, 0.82, 0.45, 0.79, 0.80, 0.40, 0.82, 0.79],
    [0.79, 0.80, 0.80, 0.79, 0.78, 0.77, 0.78, 0.60, 0.76, 0.77, 0.75, 0.74, 0.76, 0.75, 0.78, 0.76, 0.80, 0.74, 0.75, 0.73, 0.75, 0.74, 0.72, 0.73, 0.72],
    [0.76, 0.76, 0.75, 0.76, 0.75, 0.74, 0.45, 0.73, 0.35, 0.75, 0.70, 0.92, 0.65, 0.40, 0.70, 0.55, 0.68, 0.50, 0.65, 0.70, 0.60, 0.66, 0.68, 0.67, 0.68],
    [0.75, 0.74, 0.75, 0.74, 0.72, 0.70, 0.72, 0.68, 0.70, 0.66, 0.35, 0.65, 0.62, 0.64, 0.25, 0.62, 0.60, 0.63, 0.88, 0.62, 0.65, 0.64, 0.63, 0.64, 0.64],
    [0.69, 0.70, 0.72, 0.73, 0.70, 0.90, 0.65, 0.62, 0.60, 0.62, 0.58, 0.60, 0.61, 0.60, 0.58, 0.62, 0.59, 0.60, 0.58, 0.61, 0.60, 0.62, 0.61, 0.62, 0.62],
    [0.67, 0.68, 0.66, 0.65, 0.62, 0.30, 0.58, 0.55, 0.58, 0.57, 0.56, 0.55, 0.45, 0.57, 0.56, 0.25, 0.54, 0.57, 0.55, 0.58, 0.56, 0.57, 0.56, 0.58, 0.58],
    [0.62, 0.63, 0.60, 0.58, 0.57, 0.56, 0.55, 0.56, 0.54, 0.53, 0.80, 0.52, 0.54, 0.85, 0.53, 0.52, 0.50, 0.78, 0.52, 0.50, 0.53, 0.55, 0.54, 0.55, 0.55],
    [0.57, 0.55, 0.52, 0.50, 0.55, 0.60, 0.35, 0.60, 0.55, 0.50, 0.52, 0.55, 0.50, 0.48, 0.52, 0.50, 0.48, 0.51, 0.50, 0.48, 0.52, 0.50, 0.51, 0.51, 0.51],
    [0.53, 0.52, 0.50, 0.49, 0.48, 0.47, 0.46, 0.47, 0.48, 0.95, 0.48, 0.47, 0.46, 0.47, 0.48, 0.47, 0.46, 0.47, 0.48, 0.47, 0.45, 0.46, 0.47, 0.46, 0.47],
    [0.50, 0.49, 0.47, 0.47, 0.48, 0.47, 0.48, 0.47, 0.47, 0.48, 0.47, 0.48, 0.47, 0.47, 0.48, 0.47, 0.47, 0.46, 0.47, 0.48, 0.47, 0.46, 0.45, 0.45, 0.45],
    [0.485, 0.48, 0.48, 0.47, 0.46, 0.45, 0.44, 0.42, 0.43, 0.42, 0.40, 0.41, 0.40, 0.39, 0.40, 0.38, 0.40, 0.39, 0.38, 0.40, 0.38, 0.39, 0.40, 0.40, 0.40],
    [0.475, 0.47, 0.46, 0.45, 0.44, 0.92, 0.42, 0.41, 0.40, 0.42, 0.38, 0.40, 0.26, 0.40, 0.37, 0.38, 0.37, 0.36, 0.38, 0.37, 0.38, 0.36, 0.38, 0.38, 0.38],
    [0.47, 0.46, 0.45, 0.44, 0.60, 0.40, 0.55, 0.30, 0.42, 0.38, 0.40, 0.36, 0.38, 0.35, 0.37, 0.26, 0.36, 0.34, 0.36, 0.35, 0.40, 0.36, 0.35, 0.36, 0.35],
    [0.42, 0.45, 0.46, 0.40, 0.38, 0.50, 0.48, 0.52, 0.50, 0.48, 0.45, 0.55, 0.48, 0.60, 0.52, 0.45, 0.55, 0.50, 0.28, 0.52, 0.50, 0.48, 0.50, 0.45, 0.40],
    [0.38, 0.42, 0.40, 0.44, 0.42, 0.40, 0.38, 0.36, 0.33, 0.40, 0.32, 0.45, 0.30, 0.35, 0.38, 0.42, 0.35, 0.40, 0.32, 0.38, 0.25, 0.36, 0.33, 0.31, 0.30],
    [0.27, 0.27, 0.31, 0.34, 0.36, 0.38, 0.40, 0.38, 0.42, 0.41, 0.43, 0.40, 0.38, 0.42, 0.40, 0.38, 0.41, 0.40, 0.38, 0.36, 0.37, 0.38, 0.36, 0.35, 0.35],
    [0.71, 0.74, 0.80, 0.82, 0.78, 0.85, 0.55, 0.80, 0.88, 0.48, 0.82, 0.78, 0.90, 0.70, 0.85, 0.92, 0.45, 0.88, 0.98, 0.80, 0.95, 0.75, 0.85, 0.80, 0.79],
    [0.66, 0.60, 0.55, 0.68, 0.74, 0.65, 0.80, 0.72, 0.92, 0.60, 0.75, 0.90, 0.45, 0.85, 0.70, 0.95, 0.68, 0.85, 0.60, 0.90, 0.70, 0.78, 0.70, 0.72, 0.70],
]
H_MEAN_AGE = [31, 32, 34, 35, 37, 39, 42, 43, 45, 46, 48, 50, 52, 53, 55, 57, 58, 59, 61, 63, 66, 68, 71, 72, 73, 74, 75, 77, 79, 81, 84, 86, 87, 89]
H_MEAN = [0.69, 0.69, 0.67, 0.72, 0.75, 0.75, 0.745, 0.73, 0.71, 0.67, 0.64, 0.63, 0.605, 0.595, 0.605, 0.69, 0.733, 0.69, 0.637,
          0.626, 0.616, 0.61, 0.60, 0.584, 0.55, 0.54, 0.573, 0.594, 0.594, 0.594, 0.62, 0.626, 0.62, 0.594]

# ---------------- Panel I (t-SNE, overlap) ----------------
I_TSNE_1 = [
    (-163.8, 70.8), (-87.9, 148.0), (-8.9, 161.5), (77.2, 158.8), (-25.9, 90.7), (40.6, 99.2), (133.5, 96.5), (-91.1, 75.8),
    (83.5, 45.6), (17.0, 36.5), (-48.2, 23.9), (-121.9, 9.5), (149.1, 10.8), (68.3, -15.8), (-0.9, -23.5), (-73.2, -38.8),
    (-148.2, -58.2), (126.8, -61.3), (42.9, -77.1), (-25.9, -84.8), (-89.7, -116.8), (86.2, -132.2), (0.0, -151.6),
]

# ---------------- Panel J (gradients, overlap) ----------------
J_AGE = [31, 35.9, 41.8, 44.8, 47.1, 48.9, 52.2, 56.0, 57.2, 61.3, 63.7, 66.6, 69.0, 71.4, 73.2, 75.0, 77.3, 80.9, 84.4, 86.8, 89]
J_GRAD = [0.00014, 0.0, -0.0004, -0.0004, -0.0007, -0.0009, -0.0002, -0.0006, -0.0002, -0.0003, -0.0011, -0.0020, -0.0017,
          -0.0014, -0.0016, -0.0015, -0.0003, 0.0001, 0.0, -0.0004, -0.0010]

# ======================= figure =======================
fig = go.Figure()


def refs(i):
    return ("x" if i == 1 else f"x{i}"), ("y" if i == 1 else f"y{i}")


def add_lines(i, xs, rows, color, width):
    xa, ya = refs(i)
    for r in rows:
        fig.add_trace(go.Scatter(x=xs, y=r, mode="lines", line=dict(color=color, width=width),
                                 xaxis=xa, yaxis=ya, showlegend=False, hoverinfo="skip"))


def add_dots(i, xs, ys, color, size, name=None, legend=None):
    xa, ya = refs(i)
    fig.add_trace(go.Scatter(x=xs, y=ys, mode="markers", marker=dict(color=color, size=size, line=dict(width=0)),
                             xaxis=xa, yaxis=ya, name=name, showlegend=name is not None,
                             legend=legend or "legend", hoverinfo="skip"))


def add_mean(i, xs, ys, width):
    xa, ya = refs(i)
    fig.add_trace(go.Scatter(x=xs, y=ys, mode="lines", line=dict(color="black", width=width),
                             xaxis=xa, yaxis=ya, showlegend=False, hoverinfo="skip"))


A_LINE = "rgba(68,1,84,0.33)"
B_LINE = "rgba(253,231,37,0.45)"
E_CORE = "rgba(68,1,84,0.33)"
E_FADE = "rgba(68,1,84,0.14)"
E_FAINT = "rgba(68,1,84,0.12)"
H_LINE = "rgba(68,1,84,0.92)"
GRAD_P = "rgba(68,1,84,0.8)"
GRAD_Y = "rgba(253,231,37,0.8)"

# A
add_dots(1, SAMPLE_AGE, A_BETA, "black", 5)
add_lines(1, A_LOW_AGE, A_LOW_LINES, A_LINE, 1.6)
add_lines(1, JAG_AGE, A_JAG_LINES, A_LINE, 1.5)
add_mean(1, A_MEAN_AGE, A_MEAN, 5.5)
# B
add_dots(2, SAMPLE_AGE, B_BETA, "black", 5)
add_lines(2, B_LOW_AGE, B_LOW_LINES, B_LINE, 1.5)
add_lines(2, JAG_AGE, B_JAG_LINES, B_LINE, 1.5)
add_mean(2, B_MEAN_AGE, B_MEAN, 5.5)
# C
add_dots(3, [p[0] for p in C_TSNE_1], [p[1] for p in C_TSNE_1], PURPLE, 5, name="\u00a0\u00a01", legend="legend")
add_dots(3, [p[0] for p in C_TSNE_2], [p[1] for p in C_TSNE_2], YELLOW, 5, name="\u00a0\u00a02", legend="legend")
# D
add_lines(4, D_AGE_1, [D_GRAD_1], GRAD_P, 4)
add_lines(4, D_AGE_2, [D_GRAD_2], GRAD_Y, 4)
# E
add_dots(5, SAMPLE_AGE, E_BETA, "black", 5)
add_lines(5, E_FLAT_AGE, E_FADE_LINES, E_FADE, 4)
add_lines(5, E_FLAT_AGE, E_CORE_LINES, E_CORE, 4.5)
add_lines(5, JAG_AGE, E_JAG_LINES, E_FAINT, 1.5)
add_mean(5, E_MEAN_AGE, E_MEAN, 5.5)
# F
add_dots(6, [p[0] for p in F_TSNE_1], [p[1] for p in F_TSNE_1], PURPLE, 4.5, name="\u00a0\u00a01", legend="legend2")
# G
add_lines(7, G_AGE, [G_GRAD], GRAD_P, 4)
# H
add_dots(8, SAMPLE_AGE, H_BETA, "black", 5)
add_lines(8, H_AGE, H_LINES, H_LINE, 1.6)
add_mean(8, H_MEAN_AGE, H_MEAN, 7)
# I
add_dots(9, [p[0] for p in I_TSNE_1], [p[1] for p in I_TSNE_1], PURPLE, 4.5, name="\u00a0\u00a01", legend="legend3")
# J
add_lines(10, J_AGE, [J_GRAD], GRAD_P, 4)

# ---------------- axes layout ----------------
BOX = {
    1: (89, 368.5, 85, 339), 2: (461, 740, 85, 339), 3: (835, 1111.7, 85, 339),
    4: (122.3, 353.3, 458.3, 713.3),
    5: (89, 368.5, 866.7, 1120.7), 6: (471.7, 738.3, 866.7, 1120.7), 7: (869.3, 1100, 866.7, 1120.7),
    8: (89, 368.5, 1275, 1529.3), 9: (481, 738.3, 1275, 1529.3), 10: (869.3, 1100, 1275, 1529.3),
}
AGE_X = dict(range=[14.9, 105.1], dtick=20, tick0=0)
GRAD_X = dict(range=[19.3, 100.7], dtick=20, tick0=0)
GRAD_Y_AX = dict(range=[-0.0302, 0.015], dtick=0.01, tick0=0, tickformat=".2f")
AXES = {
    1: (AGE_X, dict(range=[0.154, 1.029], dtick=0.2, tick0=0, tickformat=".1f")),
    2: (AGE_X, dict(range=[0.013, 0.989], dtick=0.2, tick0=0, tickformat=".1f")),
    3: (dict(range=[-1.51, 8.52], dtick=2, tick0=0), dict(range=[-8.22, 7.92], dtick=2.5, tick0=0, tickformat=".1f")),
    4: (GRAD_X, GRAD_Y_AX),
    5: (AGE_X, dict(range=[0.215, 1.027], dtick=0.2, tick0=0, tickformat=".1f")),
    6: (dict(range=[-20.3, 21.7], dtick=10, tick0=0), dict(range=[-21.3, 20.05], dtick=10, tick0=0)),
    7: (GRAD_X, GRAD_Y_AX),
    8: (AGE_X, dict(range=[0.212, 1.027], dtick=0.2, tick0=0, tickformat=".1f")),
    9: (dict(range=[-179, 165.6], dtick=100, tick0=0), dict(range=[-167, 177], dtick=50, tick0=0)),
    10: (GRAD_X, GRAD_Y_AX),
}
COMMON = dict(showline=True, linecolor=INK, linewidth=1.8, ticks="outside", ticklen=6, tickwidth=1.5,
              tickcolor=INK, showgrid=False, zeroline=False, mirror=False, fixedrange=True, automargin=False,
              tickfont=dict(family="DejaVu Sans", size=15, color=INK))

layout = dict(template="none", width=W, height=H, margin=dict(l=0, r=0, t=0, b=0, pad=0, autoexpand=False),
              autosize=False, paper_bgcolor="white", plot_bgcolor="white", showlegend=True)
for i, (l, r, t, b) in BOX.items():
    xk = "xaxis" if i == 1 else f"xaxis{i}"
    yk = "yaxis" if i == 1 else f"yaxis{i}"
    xa, ya = refs(i)
    xs, ys = AXES[i]
    layout[xk] = dict(COMMON, domain=[l / W, r / W], anchor=ya, **xs)
    layout[yk] = dict(COMMON, domain=[1 - b / H, 1 - t / H], anchor=xa, **ys)

LEG = dict(xanchor="left", yanchor="top", bgcolor="rgba(255,255,255,0.8)", bordercolor="#cccccc", borderwidth=1,
           font=dict(family="DejaVu Sans", size=15, color=INK), itemsizing="trace", tracegroupgap=0)
layout["legend"] = dict(LEG, x=1039 / W, y=1 - 92 / H)
layout["legend2"] = dict(LEG, x=666 / W, y=1 - 874 / H)
layout["legend3"] = dict(LEG, x=489 / W, y=1 - 1495 / H)

# ---------------- text ----------------
ann = []


def text(x, y, s, size, family="DejaVu Sans", color=INK, angle=0, xanchor="center"):
    ann.append(dict(x=x / W, y=1 - y / H, xref="paper", yref="paper", text=s, showarrow=False,
                    textangle=angle, xanchor=xanchor, yanchor="middle",
                    font=dict(family=family, size=size, color=color)))


SUP = "Liberation Sans"
text(570, 22, "FC", 31, SUP, "black")
text(568, 804, "Absolute value", 31, SUP, "black")
text(568, 1214, "Overlap", 31, SUP, "black")

for s, x, y in [("A", 17, 52), ("B", 392, 50), ("C", 766, 52), ("D", 17, 419), ("E", 17, 833),
                ("F", 390, 833), ("G", 766, 833), ("H", 17, 1242), ("I", 386, 1240), ("J", 762, 1240)]:
    text(x, y, s, 22, SUP, "black")

TITLES = [
    ("Cluster 1|60 markers", 228, 66), ("Cluster 2|60 markers", 600, 66), ("t-SNE of gradient clusters", 973, 65),
    ("Gradients", 237.5, 438), ("Cluster 1|540 markers", 227, 848), ("t-SNE of gradient clusters", 604.5, 847),
    ("Gradients", 984.5, 848), ("Cluster 1|23 markers", 227, 1256), ("t-SNE of gradient clusters", 609.5, 1256),
    ("Gradients", 984.5, 1256),
]
for s, x, y in TITLES:
    text(x, y, s, 18)

XLABELS = [("Age", 228, 385), ("Age", 600, 385), ("Component 1", 973, 385), ("Age", 237.5, 758),
           ("Age", 228, 1166), ("Component 1", 605, 1166), ("Age", 984.5, 1166),
           ("Age", 228, 1575), ("Component 1", 609.5, 1575), ("Age", 984.5, 1575)]
for s, x, y in XLABELS:
    text(x, y, s, 15)

YLABELS = [("Normalized beta value", 33.5, 212), ("Normalized beta value", 406.7, 212), ("Component 2", 765, 212),
           ("Normalized beta value per year", 41.7, 586), ("Normalized beta value", 33.5, 994),
           ("Component 2", 406.7, 994), ("Normalized beta value per year", 789.3, 994),
           ("Normalized beta value", 33.5, 1402), ("Component 2", 406, 1402),
           ("Normalized beta value per year", 789.3, 1402)]
for s, x, y in YLABELS:
    text(x, y, s, 15, angle=-90)

layout["annotations"] = ann
fig.update_layout(**layout)
# the page's default 8px body margin would offset the whole figure; remove it
fig.write_html("out.html", include_plotlyjs=True, full_html=True, config={"displayModeBar": False},
               post_script="document.body.style.margin='0';document.body.style.padding='0';")
